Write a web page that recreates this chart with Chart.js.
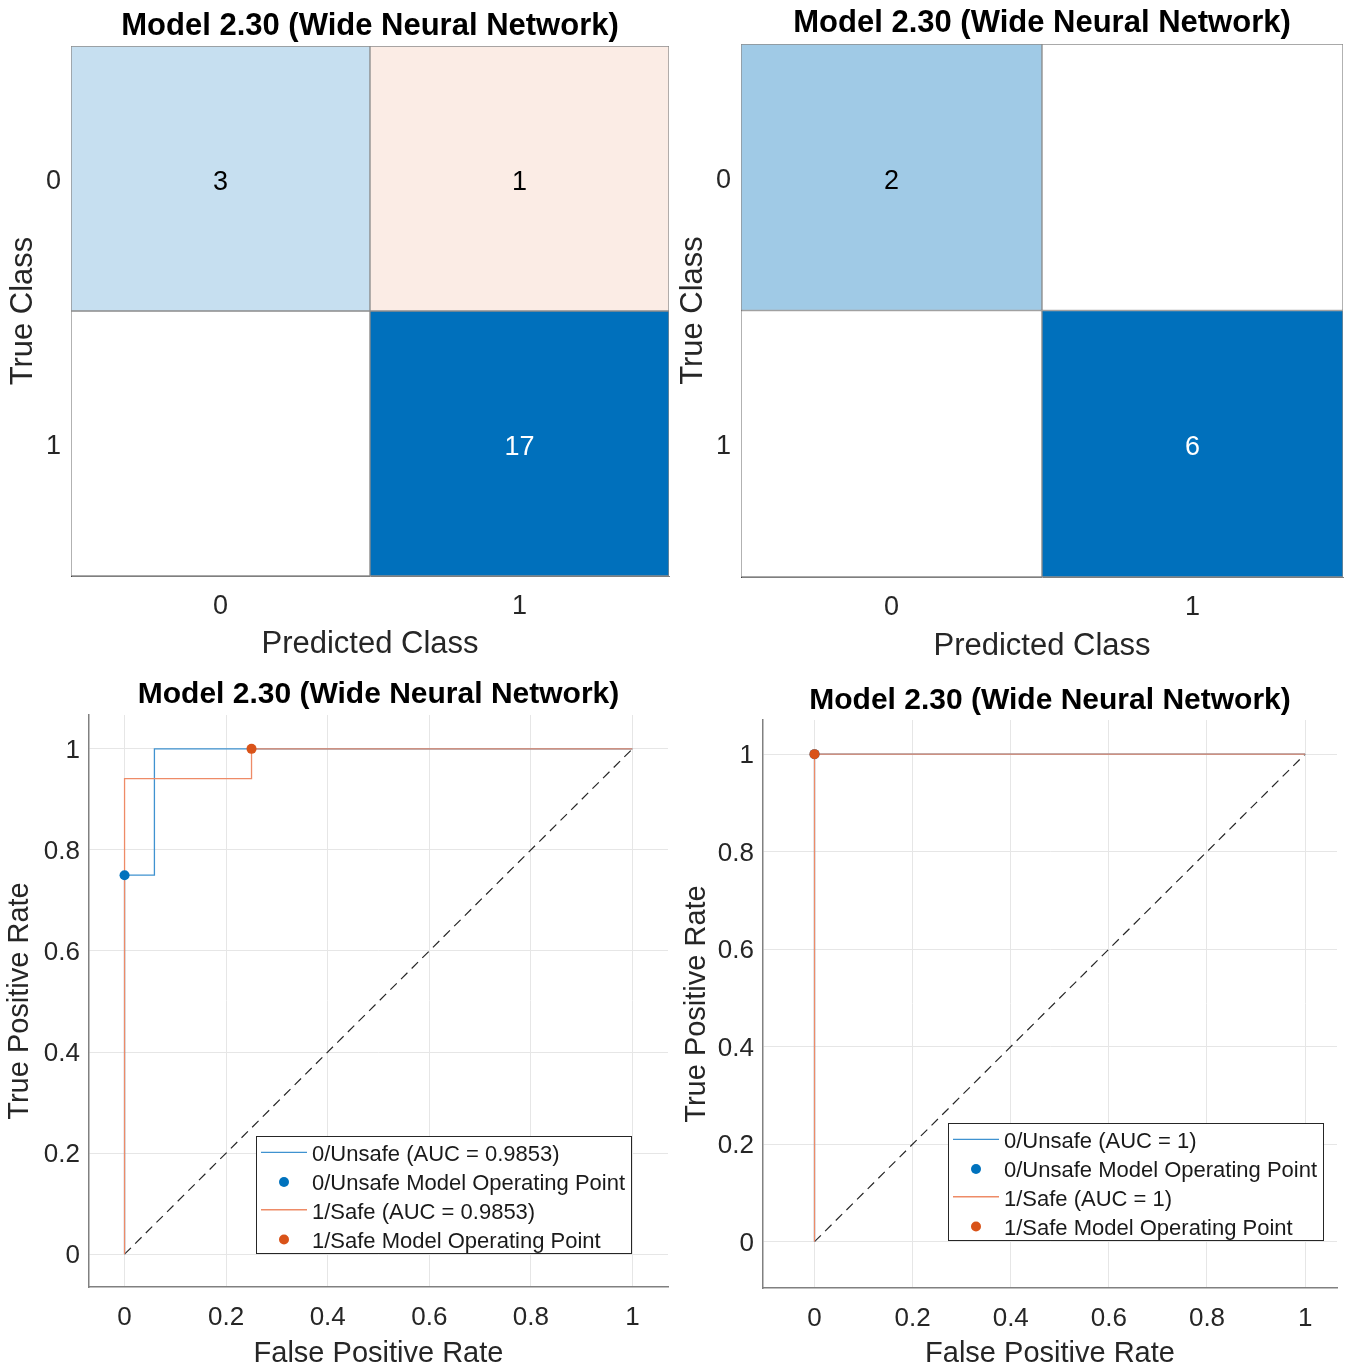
<!DOCTYPE html>
<html>
<head>
<meta charset="utf-8">
<title>Model 2.30 (Wide Neural Network)</title>
<script src="https://cdn.jsdelivr.net/npm/chart.js@4.4.1/dist/chart.umd.min.js"></script>
<style>
  body { margin: 0; background: #fff; width: 1350px; height: 1368px; position: relative; overflow: hidden; }
  .panel { position: absolute; }
  canvas { display: block; }
</style>
</head>
<body>
<div class="panel" style="left:0;top:0"><canvas id="cmA" width="675" height="670"></canvas></div>
<div class="panel" style="left:675px;top:0"><canvas id="cmB" width="675" height="670"></canvas></div>
<div class="panel" style="left:0;top:670px"><canvas id="rocA" width="675" height="698"></canvas></div>
<div class="panel" style="left:675px;top:670px"><canvas id="rocB" width="675" height="698"></canvas></div>
<script>
// datos
const chartTitle = 'Model 2.30 (Wide Neural Network)';
const classLabels = ['0', '1'];

// matrices de confusion: filas = clase real, columnas = clase predicha
const cmCountsA = [[3, 1], [0, 17]];
const cmCountsB = [[2, 0], [0, 6]];

// curvas ROC
const rocTicks = [0, 0.2, 0.4, 0.6, 0.8, 1];
const chanceLine = [0, 1];

const unsafeFprA = [0, 0, 0.0588, 0.0588, 1];
const unsafeTprA = [0, 0.75, 0.75, 1, 1];
const safeFprA = [0, 0, 0.25, 0.25, 1];
const safeTprA = [0, 0.9412, 0.9412, 1, 1];
const unsafeOpA = [0, 0.75];
const safeOpA = [0.25, 1];
const aucA = 0.9853;

const unsafeFprB = [0, 0, 1];
const unsafeTprB = [0, 1, 1];
const safeFprB = [0, 0, 1];
const safeTprB = [0, 1, 1];
const unsafeOpB = [0, 1];
const safeOpB = [0, 1];
const aucB = 1;

Chart.defaults.font.family = '"Liberation Sans", Arial, Helvetica, sans-serif';
Chart.defaults.color = '#262626';
Chart.defaults.animation = false;

const FONT = '"Liberation Sans", Arial, Helvetica, sans-serif';

// titulo centrado sobre el area del grafico
const panelTitle = {
  id: 'panelTitle',
  afterDraw(chart, args, opts) {
    const { ctx, chartArea } = chart;
    ctx.save();
    ctx.font = opts.font;
    ctx.fillStyle = '#000';
    ctx.textAlign = 'center';
    ctx.textBaseline = 'middle';
    ctx.fillText(opts.text, (chartArea.left + chartArea.right) / 2, opts.y);
    ctx.restore();
  }
};

// numeros dentro de cada celda
const cellLabels = {
  id: 'cellLabels',
  afterDatasetsDraw(chart, args, opts) {
    const { ctx } = chart;
    ctx.save();
    ctx.font = opts.font;
    ctx.textAlign = 'center';
    ctx.textBaseline = 'middle';
    chart.data.datasets.forEach((ds, i) => {
      chart.getDatasetMeta(i).data.forEach((bar, j) => {
        const v = ds.counts[j];
        if (!v) return;
        ctx.fillStyle = ds.textColors[j];
        ctx.fillText(String(v), bar.x, (bar.y + bar.base) / 2 + 4);
      });
    });
    ctx.restore();
  }
};

// leyenda tipo MATLAB dentro del area
const rocLegend = {
  id: 'rocLegend',
  afterDraw(chart, args, opts) {
    const { ctx, chartArea } = chart;
    const items = chart.data.datasets.filter(ds => ds.inLegend !== false);
    ctx.save();
    ctx.font = opts.font;
    const textW = Math.max(...items.map(ds => ctx.measureText(ds.label).width));
    const rowH = 28.7, sample = 56;
    const w = Math.round(sample + textW + 6), h = Math.round(rowH * items.length + 2);
    const x0 = Math.round(chartArea.right - opts.right - w);
    const y0 = Math.round(chartArea.bottom - opts.bottom - h);
    ctx.fillStyle = '#fff';
    ctx.fillRect(x0, y0, w, h);
    ctx.strokeStyle = '#262626';
    ctx.lineWidth = 1;
    ctx.strokeRect(x0 + 0.5, y0 + 0.5, w, h);
    items.forEach((ds, i) => {
      const cy = y0 + 2 + rowH * (i + 0.5);
      if (ds.showLine) {
        ctx.strokeStyle = ds.borderColor;
        ctx.lineWidth = ds.borderWidth;
        ctx.beginPath();
        ctx.moveTo(x0 + 5, cy);
        ctx.lineTo(x0 + 51, cy);
        ctx.stroke();
      } else {
        ctx.fillStyle = ds.backgroundColor;
        ctx.beginPath();
        ctx.arc(x0 + 28, cy + 1, 5, 0, Math.PI * 2);
        ctx.fill();
      }
      ctx.fillStyle = '#1a1a1a';
      ctx.textAlign = 'left';
      ctx.textBaseline = 'middle';
      ctx.fillText(ds.label, x0 + sample, cy + 3);
    });
    ctx.restore();
  }
};

function shade(base, t) {
  return 'rgb(' + base.map(c => Math.round(255 - (255 - c) * t)).join(',') + ')';
}

function confusionChart(id, counts, lay) {
  const max = Math.max(...counts.flat());
  const datasets = counts.map((row, r) => ({
    data: row.map(() => [r, r + 1]),
    counts: row,
    textColors: row.map(v => v / max > 0.5 ? '#ffffff' : '#000000'),
    backgroundColor: row.map((v, c) => {
      if (!v) return '#ffffff';
      const t = Math.min(1, 0.056 + 0.944 * v / max);
      return shade(r === c ? [0, 112, 188] : [217, 83, 25], t);
    }),
    borderColor: '#8c8c8c',
    borderWidth: 1,
    borderSkipped: false,
    barPercentage: 1,
    categoryPercentage: 1,
    grouped: false
  }));

  new Chart(document.getElementById(id), {
    type: 'bar',
    data: { labels: classLabels, datasets },
    options: {
      responsive: false,
      events: [],
      layout: { padding: { top: lay.top, right: lay.right, left: 0, bottom: 0 } },
      plugins: {
        legend: { display: false },
        tooltip: { enabled: false },
        panelTitle: { text: chartTitle, y: lay.titleY, font: 'bold 31px ' + FONT },
        cellLabels: { font: '27px ' + FONT }
      },
      scales: {
        x: {
          type: 'category',
          grid: { display: false, drawTicks: false },
          border: { display: true, color: '#7f7f7f', width: 1 },
          ticks: { font: { size: 27 }, color: '#262626', padding: 14 },
          title: { display: true, text: 'Predicted Class', font: { size: 31 }, color: '#262626', padding: { top: 0, bottom: lay.xTitlePad } },
          afterFit: s => { s.height = lay.xh; }
        },
        y: {
          type: 'linear',
          min: 0,
          max: 2,
          reverse: true,
          afterBuildTicks: s => { s.ticks = classLabels.map((l, i) => ({ value: i + 0.5 })); },
          grid: { display: false, drawTicks: false },
          border: { display: true, color: '#404040', width: 1 },
          ticks: { font: { size: 27 }, color: '#262626', padding: 10, labelOffset: 3, callback: v => classLabels[Math.floor(v)] },
          title: { display: true, text: 'True Class', font: { size: 31 }, color: '#262626', padding: { top: lay.yTitlePad, bottom: 0 } },
          afterFit: s => { s.width = lay.yw; }
        }
      }
    },
    plugins: [panelTitle, cellLabels]
  });
}

function pts(xs, ys) {
  return xs.map((x, i) => ({ x, y: ys[i] }));
}

function rocChart(id, d, lay) {
  const blueLine = '#3f92d0', orangeLine = '#ee8b67';
  const datasets = [
    { label: '0/Unsafe (AUC = ' + d.auc + ')', data: pts(d.unsafeFpr, d.unsafeTpr), showLine: true,
      borderColor: blueLine, borderWidth: 1.3, pointRadius: 0, order: 3 },
    { label: '0/Unsafe Model Operating Point', data: pts([d.unsafeOp[0]], [d.unsafeOp[1]]), showLine: false,
      backgroundColor: '#0072bd', borderColor: '#0072bd', pointRadius: 5, borderWidth: 0, order: 1 },
    { label: '1/Safe (AUC = ' + d.auc + ')', data: pts(d.safeFpr, d.safeTpr), showLine: true,
      borderColor: orangeLine, borderWidth: 1.3, pointRadius: 0, order: 2 },
    { label: '1/Safe Model Operating Point', data: pts([d.safeOp[0]], [d.safeOp[1]]), showLine: false,
      backgroundColor: '#d95319', borderColor: '#d95319', pointRadius: 5, borderWidth: 0, order: 0 },
    { label: 'chance', data: pts(chanceLine, chanceLine), showLine: true, inLegend: false,
      borderColor: '#262626', borderWidth: 1.2, borderDash: [9, 6], pointRadius: 0, order: 4 }
  ];

  new Chart(document.getElementById(id), {
    type: 'scatter',
    data: { datasets },
    options: {
      responsive: false,
      events: [],
      layout: { padding: { top: lay.top, right: lay.right, left: 0, bottom: 0 } },
      plugins: {
        legend: { display: false },
        tooltip: { enabled: false },
        panelTitle: { text: chartTitle, y: lay.titleY, font: 'bold 30px ' + FONT },
        rocLegend: { font: '22px ' + FONT, right: lay.legRight, bottom: lay.legBottom }
      },
      scales: {
        x: {
          type: 'linear',
          min: lay.xmin,
          max: lay.xmax,
          afterBuildTicks: s => { s.ticks = rocTicks.map(v => ({ value: v })); },
          grid: { color: '#e6e6e6', drawTicks: false },
          border: { color: '#808080', width: 1.5 },
          ticks: { font: { size: 26 }, color: '#262626', padding: 15, callback: v => String(v) },
          title: { display: true, text: 'False Positive Rate', font: { size: 29, lineHeight: 1.0 }, color: '#262626', padding: { top: 0, bottom: 0 } },
          afterFit: s => { s.height = lay.xh; }
        },
        y: {
          type: 'linear',
          min: lay.ymin,
          max: lay.ymax,
          afterBuildTicks: s => { s.ticks = rocTicks.map(v => ({ value: v })); },
          grid: { color: '#e6e6e6', drawTicks: false },
          border: { color: '#808080', width: 1.5 },
          ticks: { font: { size: 26 }, color: '#262626', padding: 9, labelOffset: 2, callback: v => String(v) },
          title: { display: true, text: 'True Positive Rate', font: { size: 29 }, color: '#262626', padding: { top: lay.yTitlePad, bottom: 0 } },
          afterFit: s => { s.width = lay.yw; }
        }
      }
    },
    plugins: [panelTitle, rocLegend]
  });
}

confusionChart('cmA', cmCountsA, { top: 46, right: 6, yw: 71, xh: 94, titleY: 26, xTitlePad: 7, yTitlePad: 5 });
confusionChart('cmB', cmCountsB, { top: 44, right: 7, yw: 66, xh: 93, titleY: 23, xTitlePad: 5, yTitlePad: 0 });

rocChart('rocA',
  { unsafeFpr: unsafeFprA, unsafeTpr: unsafeTprA, safeFpr: safeFprA, safeTpr: safeTprA,
    unsafeOp: unsafeOpA, safeOp: safeOpA, auc: aucA },
  { top: 45, right: 7, yw: 89, xh: 81, titleY: 25, yTitlePad: 3,
    xmin: -0.07, xmax: 1.07, ymin: -0.065, ymax: 1.067, legRight: 37, legBottom: 34 });

rocChart('rocB',
  { unsafeFpr: unsafeFprB, unsafeTpr: unsafeTprB, safeFpr: safeFprB, safeTpr: safeTprB,
    unsafeOp: unsafeOpB, safeOp: safeOpB, auc: aucB },
  { top: 50, right: 13, yw: 88, xh: 80, titleY: 31, yTitlePad: 5,
    xmin: -0.105, xmax: 1.065, ymin: -0.095, ymax: 1.07, legRight: 14, legBottom: 48 });
</script>
</body>
</html>
